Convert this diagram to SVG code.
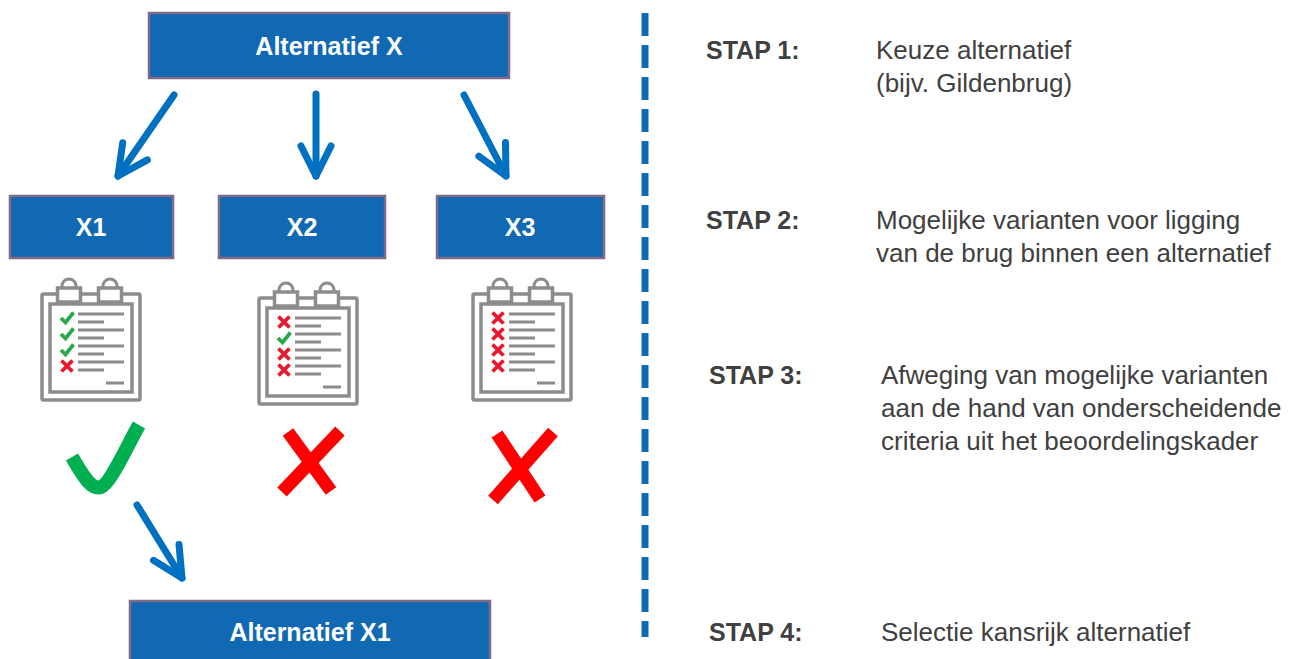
<svg xmlns="http://www.w3.org/2000/svg" width="1309" height="659" viewBox="0 0 1309 659">
<style>
.box{fill:#1169B3;stroke:#7F6A88;stroke-width:2.5}
.bt{font-family:"Liberation Sans",Arial,sans-serif;font-weight:bold;font-size:25px;fill:#FFFFFF;text-anchor:middle}
.arr{fill:none;stroke:#0070C0;stroke-width:7;stroke-linecap:round;marker-end:url(#ah)}
.stap{font-family:"Liberation Sans",Arial,sans-serif;font-weight:bold;font-size:25px;fill:#404040}
.desc{font-family:"Liberation Sans",Arial,sans-serif;font-size:26px;fill:#404040}
.cb{fill:#FFFFFF;stroke:#8C8C8C;stroke-width:3.5}
.cl{fill:none;stroke:#8C8C8C;stroke-width:3}
.gk{fill:none;stroke:#2BA84A;stroke-width:3.8;stroke-linecap:butt;stroke-linejoin:miter}
.rx{fill:none;stroke:#E8192C;stroke-width:3.8}
.bigx{fill:none;stroke:#FF0000;stroke-width:13}
</style>
<defs>
<marker id="ah" markerUnits="userSpaceOnUse" markerWidth="60" markerHeight="60" refX="0" refY="0" viewBox="-40 -30 60 60" orient="auto" overflow="visible">
<path d="M -30 -15 L 0 0 L -30 15" fill="none" stroke="#0070C0" stroke-width="7" stroke-linecap="round" stroke-linejoin="round"/>
</marker>
<g id="board">
<rect class="cb" x="0" y="0" width="98" height="106" rx="1.5"/>
<rect class="cb" x="8" y="10" width="82" height="88" stroke-width="3"/>
<path class="cl" d="M20 -6 V-8 A7 7 0 0 1 34 -8 V-6"/>
<path class="cl" d="M61 -6 V-8 A7 7 0 0 1 75 -8 V-6"/>
<rect class="cb" x="15.5" y="-6" width="23" height="14" stroke-width="3"/>
<rect class="cb" x="56.5" y="-6" width="23" height="14" stroke-width="3"/>
<path class="cl" d="M36 20 H82 M36 28 H62 M36 36 H82 M36 44 H62 M36 52 H82 M36 60 H62 M36 68 H82 M36 76 H62 M64 89 H82"/>
</g>
<path id="ck" class="gk" d="M-6 0 L-1.5 4.5 L6.5 -5.5"/>
<path id="xx" class="rx" d="M-5.5 -5.5 L5.5 5.5 M5.5 -5.5 L-5.5 5.5"/>
</defs>

<g id="connectors">
<line class="arr" x1="174" y1="95" x2="118" y2="176"/>
<line class="arr" x1="316" y1="94" x2="316" y2="176"/>
<line class="arr" x1="464" y1="95" x2="506" y2="176"/>
<line class="arr" x1="137" y1="505" x2="182" y2="578"/>
</g>

<g id="node-alternatief-x">
<rect class="box" x="149" y="13" width="360" height="65"/>
<text class="bt" x="329" y="55">Alternatief X</text>
</g>
<g id="node-x1">
<rect class="box" x="10" y="196" width="163" height="62"/>
<text class="bt" x="91" y="236">X1</text>
</g>
<g id="node-x2">
<rect class="box" x="219" y="196" width="166" height="62"/>
<text class="bt" x="302" y="236">X2</text>
</g>
<g id="node-x3">
<rect class="box" x="437" y="196" width="167" height="62"/>
<text class="bt" x="520" y="236">X3</text>
</g>
<g id="node-alternatief-x1">
<rect class="box" x="130" y="601" width="360" height="70"/>
<text class="bt" x="310" y="641">Alternatief X1</text>
</g>

<g id="clipboard-x1" transform="translate(42,294)">
<use href="#board"/>
<use href="#ck" x="25" y="24"/>
<use href="#ck" x="25" y="40"/>
<use href="#ck" x="25" y="56"/>
<use href="#xx" x="25" y="72"/>
</g>
<g id="clipboard-x2" transform="translate(259,298)">
<use href="#board"/>
<use href="#xx" x="25" y="24"/>
<use href="#ck" x="25" y="40"/>
<use href="#xx" x="25" y="56"/>
<use href="#xx" x="25" y="72"/>
</g>
<g id="clipboard-x3" transform="translate(473,294)">
<use href="#board"/>
<use href="#xx" x="25" y="24"/>
<use href="#xx" x="25" y="40"/>
<use href="#xx" x="25" y="56"/>
<use href="#xx" x="25" y="72"/>
</g>

<g id="verdict-x1">
<path d="M72 457 C84 478 92 490 101 487 C110 484 125 450 139 425" fill="none" stroke="#00B050" stroke-width="14"/>
</g>
<g id="verdict-x2">
<path class="bigx" d="M288 432 L331 491 M340 431 L282 492"/>
</g>
<g id="verdict-x3">
<path class="bigx" d="M497 434 L540 499 M553 432 L493 500"/>
</g>

<g id="divider">
<line x1="645" y1="13" x2="645" y2="637" stroke="#1169B3" stroke-width="7" stroke-dasharray="23 9"/>
</g>

<g id="steps">
<text class="stap" x="706" y="59">STAP 1:</text>
<text class="desc" x="876" y="59">Keuze alternatief</text>
<text class="desc" x="876" y="92">(bijv. Gildenbrug)</text>
<text class="stap" x="706" y="229">STAP 2:</text>
<text class="desc" x="876" y="229">Mogelijke varianten voor ligging</text>
<text class="desc" x="876" y="262">van de brug binnen een alternatief</text>
<text class="stap" x="709" y="384">STAP 3:</text>
<text class="desc" x="881" y="384">Afweging van mogelijke varianten</text>
<text class="desc" x="881" y="417">aan de hand van onderscheidende</text>
<text class="desc" x="881" y="450">criteria uit het beoordelingskader</text>
<text class="stap" x="709" y="641">STAP 4:</text>
<text class="desc" x="881" y="641">Selectie kansrijk alternatief</text>
</g>
</svg>
